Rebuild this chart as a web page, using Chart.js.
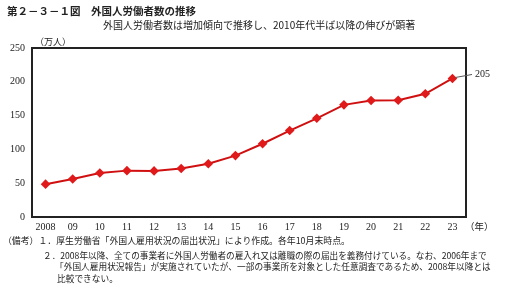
<!DOCTYPE html>
<html><head><meta charset="utf-8">
<script src="https://cdn.jsdelivr.net/npm/chart.js@4/dist/chart.umd.min.js"></script>
<style>
html,body{margin:0;padding:0;background:#fff;width:512px;height:288px;overflow:hidden;}
#wrap{position:relative;width:512px;height:288px;}
canvas{position:absolute;left:0;top:0;}
.t{position:absolute;white-space:nowrap;color:#222;font-family:"Noto Sans CJK JP","Noto Sans",sans-serif;line-height:1;}
</style></head><body>
<div id="wrap">
<canvas id="c" width="512" height="288"></canvas>
<div class="t" style="left:7px;top:6px;font-size:10.5px;font-weight:bold;">第２－３－１図　外国人労働者数の推移</div>
<div class="t" style="left:103px;top:20px;font-size:10px;">外国人労働者数は増加傾向で推移し、2010年代半ば以降の伸びが顕著</div>
<div class="t" style="left:35px;top:37px;font-size:9px;">（万人）</div>
<div class="t" style="left:465px;top:222px;font-size:9.5px;">（年）</div>
<div class="t" style="left:3px;top:237px;font-size:8.9px;">（備考）１．厚生労働省「外国人雇用状況の届出状況」により作成。各年10月末時点。</div>
<div class="t" style="left:43px;top:251px;font-size:8.65px;">２．2008年以降、全ての事業者に外国人労働者の雇入れ又は離職の際の届出を義務付けている。なお、2006年まで</div>
<div class="t" style="left:55px;top:263px;font-size:8.7px;">「外国人雇用状況報告」が実施されていたが、一部の事業所を対象とした任意調査であるため、2008年以降とは</div>
<div class="t" style="left:57px;top:275px;font-size:8.7px;">比較できない。</div>
</div>
<script>
const categories = ["2008","09","10","11","12","13","14","15","16","17","18","19","20","21","22","23"];
const workers = [48.6,56.3,65.0,68.6,68.2,71.8,78.8,90.8,108.4,127.9,146.0,165.9,172.4,172.7,182.3,204.9];
const yTicks = [0,50,100,150,200,250];
const lastLabel = "205";

const frame = {
  id:'frame',
  afterDraw(chart){
    const {ctx, chartArea:a} = chart;
    ctx.save();
    ctx.strokeStyle = '#222';
    ctx.lineWidth = 2;
    ctx.strokeRect(a.left, a.top, a.right-a.left, a.bottom-a.top);
    const meta = chart.getDatasetMeta(0);
    const p = meta.data[meta.data.length-1];
    ctx.strokeStyle = '#555';
    ctx.lineWidth = 1;
    ctx.beginPath();
    ctx.moveTo(p.x+3, p.y-1);
    ctx.lineTo(a.right+6, p.y-4);
    ctx.stroke();
    ctx.fillStyle = '#222';
    ctx.font = '10px "Liberation Serif", serif';
    ctx.textBaseline = 'middle';
    ctx.fillText(lastLabel, a.right+9, p.y-4);
    ctx.restore();
  }
};

new Chart(document.getElementById('c'), {
  type:'line',
  data:{labels:categories, datasets:[{
    data:workers,
    borderColor:'#d01010',
    backgroundColor:'#e01a1a',
    borderWidth:2,
    pointStyle:'rectRot',
    pointRadius:4.8,
    pointBorderWidth:0,
    tension:0
  }]},
  options:{
    responsive:false, animation:false,
    layout:{padding:{left:0,right:46,top:48,bottom:51}},
    plugins:{legend:{display:false},tooltip:{enabled:false},title:{display:false}},
    scales:{
      x:{
        offset:true,
        grid:{display:false,drawTicks:false},
        border:{display:false},
        ticks:{color:'#222',font:{family:'"Liberation Serif", serif',size:10},padding:4,maxRotation:0,autoSkip:false},
        afterFit(s){s.height=20;}
      },
      y:{
        min:0,max:250,
        afterBuildTicks(s){s.ticks = yTicks.map(v=>({value:v}));},
        grid:{display:false,drawTicks:false},
        border:{display:false},
        ticks:{color:'#222',font:{family:'"Liberation Serif", serif',size:10},padding:7},
        afterFit(s){s.width=32;}
      }
    }
  },
  plugins:[frame]
});
</script>
</body></html>
